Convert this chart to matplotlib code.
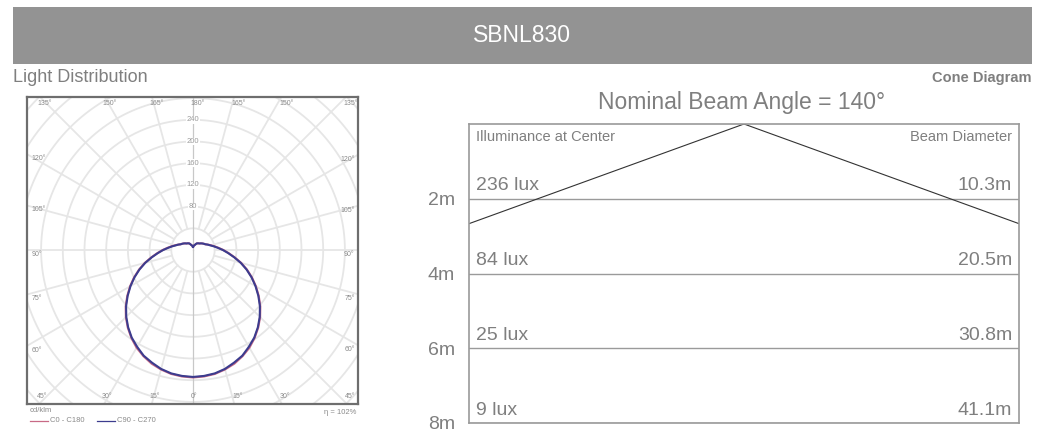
import numpy as np
import matplotlib
matplotlib.use("Agg")
import matplotlib.pyplot as plt
from matplotlib.patches import Rectangle
from matplotlib.lines import Line2D

# ---------------- data ----------------
title = "SBNL830"
gamma = [0, 5, 10, 15, 20, 25, 30, 35, 40, 45, 50, 55, 60, 65, 70, 75, 80, 85, 90,
         95, 100, 105, 110, 115, 120, 125, 130, 135, 140, 145, 150, 155, 160, 165, 170, 175, 180]
I_C90 = [234, 233, 231, 227, 221, 215, 206, 197, 186, 174, 161, 147, 133, 119, 105, 91, 77, 65, 55,
         46, 39, 33, 29, 25, 23, 21, 19, 17, 16, 15, 14, 12, 10, 9, 8, 7, 6]
I_C0 = [235, 234, 232, 228, 223, 216, 208, 198, 187, 175, 162, 148, 134, 120, 106, 92, 78, 66, 56,
        47, 40, 34, 29, 25, 23, 21, 19, 17, 16, 15, 14, 12, 10, 9, 8, 7, 6]
radial_ticks = [40, 80, 120, 160, 200, 240, 280, 320, 360, 400]
radial_labels = [80, 120, 160, 200, 240]
angle_step = 15
efficiency = "η = 102%"

beam_angle = 140
heights = [2, 4, 6, 8]
lux = [236, 84, 25, 9]
diam = [10.3, 20.5, 30.8, 41.1]

# ---------------- layout ----------------
W, H = 1045, 433
fig = plt.figure(figsize=(W / 100, H / 100), dpi=100)
fig.patch.set_facecolor("white")
FONT = ["Liberation Sans", "DejaVu Sans"]
GRAY = "#7f7f7f"


def rect(x0, y0, x1, y1):
    return [x0 / W, 1 - y1 / H, (x1 - x0) / W, (y1 - y0) / H]


def fx(x):
    return x / W


def fy(y):
    return 1 - y / H


# banner
fig.add_artist(Rectangle((fx(13), fy(64)), (1032 - 13) / W, (64 - 7) / H,
                         transform=fig.transFigure, facecolor="#939393", edgecolor="none"))
fig.text(fx(522), fy(36), title, color="white", fontsize=16.5, family=FONT,
         ha="center", va="center")
fig.text(fx(13), fy(78), "Light Distribution", color=GRAY, fontsize=13, family=FONT,
         ha="left", va="center")
fig.text(fx(1032), fy(78), "Cone Diagram", color=GRAY, fontsize=10.5, family=FONT,
         ha="right", va="center", fontweight="bold")

# ---------------- polar diagram ----------------
px0, py0, px1, py1 = 27, 97, 358, 404
ox, oy = 193, 250
s = 21.7 / 40.0  # px per cd/klm
axp = fig.add_axes(rect(px0, py0, px1, py1))
axp.set_xlim(-(ox - px0) / s, (px1 - ox) / s)
axp.set_ylim(-(py1 - oy) / s, (oy - py0) / s)
axp.set_xticks([])
axp.set_yticks([])
for sp in axp.spines.values():
    sp.set_color("#6e6e6e")
    sp.set_linewidth(1.6)

th = np.linspace(0, 2 * np.pi, 400)
for r in radial_ticks:
    axp.plot(r * np.cos(th), r * np.sin(th), color="#e6e6e6", lw=1.3, zorder=1)
rmax = 450
for a in range(0, 360, angle_step):
    ar = np.deg2rad(a)
    r0 = 0 if a % 180 == 0 else radial_ticks[0]
    col = "#c8c8c8" if a % 180 == 0 else "#e6e6e6"
    lw = 0.9 if a % 180 == 0 else 1.3
    axp.plot([r0 * np.sin(ar), rmax * np.sin(ar)], [-r0 * np.cos(ar), -rmax * np.cos(ar)],
             color=col, lw=lw, zorder=1)

g = np.deg2rad(np.array(gamma))
for vals, col, z in [(I_C0, "#c86a86", 3), (I_C90, "#3c3c8e", 4)]:
    v = np.array(vals, dtype=float)
    xs = np.concatenate([-(v * np.sin(g))[::-1], (v * np.sin(g))[1:]])
    ys = np.concatenate([-(v * np.cos(g))[::-1], -(v * np.cos(g))[1:]])
    axp.plot(xs, ys, color=col, lw=1.5, zorder=z)

for r in radial_labels:
    axp.text(0, r, str(r), fontsize=5.5, color="#9a9a9a", ha="center", va="center", family=FONT,
             bbox=dict(facecolor="white", edgecolor="none", pad=0.3), zorder=5)

# angle labels along box edges
xl, xr = axp.get_xlim()
yb, yt = axp.get_ylim()
lab_kw = dict(fontsize=5, color="#8a8a8a", family=FONT, zorder=5)
for a in range(-45, 46, 15):
    x = yt * np.tan(np.deg2rad(a))
    x = min(max(x, xl + 8), xr - 18)
    axp.text(x - 4, yt - 5, f"{180 - abs(a)}°", ha="left", va="top", **lab_kw)
    x = -yb * np.tan(np.deg2rad(a))
    x = min(max(x, xl + 8), xr - 18)
    axp.text(x - 4, yb + 8, f"{abs(a)}°", ha="left", va="bottom", **lab_kw)
for a in [120, 105, 90, 75, 60]:
    off = np.tan(np.deg2rad(a - 90))
    axp.text(xl + 8, -xl * off - 8, f"{a}°", ha="left", va="center", **lab_kw)
    axp.text(xr - 6, xr * off - 8, f"{a}°", ha="right", va="center", **lab_kw)

fig.text(fx(30), fy(411), "cd/klm", fontsize=5.5, color="#8a8a8a", family=FONT, ha="left", va="center")
fig.text(fx(356), fy(412), efficiency, fontsize=5.5, color="#8a8a8a", family=FONT, ha="right", va="center")
fig.add_artist(Line2D([fx(30), fx(48)], [fy(421), fy(421)], color="#c86a86", lw=0.9,
                      transform=fig.transFigure))
fig.text(fx(50), fy(421), "C0 - C180", fontsize=5.5, color="#8a8a8a", family=FONT, ha="left", va="center")
fig.add_artist(Line2D([fx(97), fx(115)], [fy(421), fy(421)], color="#3c3c8e", lw=0.9,
                      transform=fig.transFigure))
fig.text(fx(117), fy(421), "C90 - C270", fontsize=5.5, color="#8a8a8a", family=FONT, ha="left", va="center")

# ---------------- cone diagram ----------------
cx0, cy0, cx1, cy1 = 469, 124, 1019, 423
axc = fig.add_axes(rect(cx0, cy0, cx1, cy1))
half = 6.85
axc.set_xlim(-half, half)
axc.set_ylim(heights[-1], 0)
axc.set_xticks([])
axc.set_yticks([])
for sp in axc.spines.values():
    sp.set_color("#9a9a9a")
    sp.set_linewidth(1.2)

for h in heights:
    axc.axhline(h, color="#9a9a9a", lw=1.0)
axc.plot([0, -diam[-1] / 2], [0, heights[-1]], color="#333333", lw=0.8, clip_on=True)
axc.plot([0, diam[-1] / 2], [0, heights[-1]], color="#333333", lw=0.8, clip_on=True)

axc.text(0.013, 0.958, "Illuminance at Center", transform=axc.transAxes, fontsize=10.5,
         color=GRAY, family=FONT, ha="left", va="center")
axc.text(0.987, 0.958, "Beam Diameter", transform=axc.transAxes, fontsize=10.5,
         color=GRAY, family=FONT, ha="right", va="center")
for h, l, d in zip(heights, lux, diam):
    axc.text(-half + 0.17, h - 0.12, f"{l} lux", fontsize=14, color=GRAY, family=FONT,
             ha="left", va="bottom")
    axc.text(half - 0.17, h - 0.12, f"{d}m", fontsize=14, color=GRAY, family=FONT,
             ha="right", va="bottom")
    axc.text(-half - 0.35, h + 0.05, f"{h}m", fontsize=14, color=GRAY, family=FONT,
             ha="right", va="center", clip_on=False)

fig.text(fx(742), fy(103), f"Nominal Beam Angle = {beam_angle}°", fontsize=16.5, color=GRAY,
         family=FONT, ha="center", va="center")

fig.savefig("out.png", dpi=100, facecolor="white")
